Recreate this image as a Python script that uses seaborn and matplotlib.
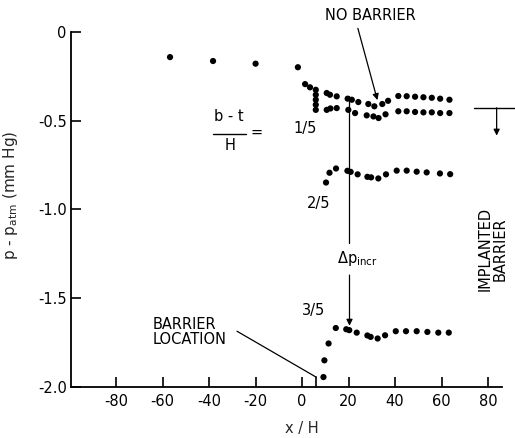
import numpy as np
import pandas as pd
import matplotlib
matplotlib.use("Agg")
import matplotlib.pyplot as plt
import seaborn as sns

# ---------------- data ----------------
upstream_x = [-56.8, -38.3, -20.0, -1.8, 1.3, 3.4, 5.9]
upstream_y = [-0.143, -0.165, -0.180, -0.200, -0.295, -0.313, -0.327]

column_x = [5.9, 5.9, 5.9, 5.9]
column_y = [-0.355, -0.383, -0.411, -0.440]

nobar_x = [10.6, 12.0, 14.9, 19.6, 21.4, 24.2, 28.5, 31.1, 34.5, 37.0,
           41.4, 45.0, 48.6, 52.2, 55.8, 59.4, 63.4]
nobar_y = [-0.345, -0.355, -0.364, -0.377, -0.383, -0.396, -0.407, -0.420,
           -0.407, -0.389, -0.362, -0.363, -0.366, -0.369, -0.372, -0.377, -0.383]

r15_x = [10.6, 12.2, 14.9, 19.9, 22.8, 27.8, 30.7, 32.9, 35.9,
         41.4, 45.0, 48.6, 52.2, 55.8, 59.4, 63.4]
r15_y = [-0.440, -0.432, -0.430, -0.440, -0.458, -0.471, -0.477, -0.486, -0.465,
         -0.448, -0.448, -0.452, -0.454, -0.454, -0.458, -0.458]

r25_x = [10.3, 11.8, 14.6, 19.5, 20.9, 23.9, 28.1, 29.7, 32.8, 36.1,
         40.7, 45.0, 49.3, 53.6, 59.3, 63.7]
r25_y = [-0.849, -0.794, -0.770, -0.783, -0.789, -0.803, -0.817, -0.820, -0.826,
         -0.803, -0.782, -0.782, -0.788, -0.792, -0.798, -0.802]

r35_x = [9.2, 9.6, 11.4, 14.5, 19.0, 20.3, 23.5, 28.1, 29.5, 32.5, 35.7,
         40.3, 44.7, 49.3, 53.9, 58.6, 63.1]
r35_y = [-1.944, -1.850, -1.755, -1.668, -1.675, -1.680, -1.694, -1.710, -1.718,
         -1.727, -1.709, -1.686, -1.686, -1.686, -1.690, -1.694, -1.694]

x_ticks = [-80, -60, -40, -20, 0, 20, 40, 60, 80]
y_ticks = [0.0, -0.5, -1.0, -1.5, -2.0]
y_tick_labels = ["0", "-0.5", "-1.0", "-1.5", "-2.0"]
ratio_labels = ["1/5", "2/5", "3/5"]

frames = []
for name, xs, ys in [("upstream", upstream_x, upstream_y),
                     ("column", column_x, column_y),
                     ("none", nobar_x, nobar_y),
                     ("1/5", r15_x, r15_y),
                     ("2/5", r25_x, r25_y),
                     ("3/5", r35_x, r35_y)]:
    frames.append(pd.DataFrame({"x": xs, "y": ys, "series": name}))
df = pd.concat(frames, ignore_index=True)

# ---------------- figure ----------------
sns.set_style("ticks")
plt.rcParams["font.family"] = ["DejaVu Sans"]
plt.rcParams["axes.unicode_minus"] = False

W, H = 515, 438
fig = plt.figure(figsize=(W / 100, H / 100), dpi=100)
L, R, B, T = 71 / W, 502 / W, 1 - 387 / H, 1 - 31.7 / H
ax = fig.add_axes([L, B, R - L, T - B])

pal = {s: "black" for s in df["series"].unique()}
sns.scatterplot(data=df, x="x", y="y", hue="series", palette=pal, s=20,
                linewidth=0, legend=False, ax=ax, clip_on=False, zorder=3)

ax.set_xlim(-99.4, 86)
ax.set_ylim(-2.0, 0.0)
for sp in ["top", "right"]:
    ax.spines[sp].set_visible(False)
for sp in ["left", "bottom"]:
    ax.spines[sp].set_linewidth(1.3)
    ax.spines[sp].set_color("black")

ax.set_xticks(x_ticks)
ax.set_xticklabels([str(v) for v in x_ticks])
ax.set_yticks(y_ticks)
ax.set_yticklabels(y_tick_labels)
ax.tick_params(axis="both", direction="in", length=7, width=1.2,
               labelsize=10.5, colors="black")
ax.tick_params(axis="x", pad=5)
ax.tick_params(axis="y", pad=3)

ax.set_xlabel("x / H", fontsize=10.5)
ax.xaxis.set_label_coords(0.536, -0.095)
ax.set_ylabel(r"p - p$_{\mathrm{atm}}$ (mm Hg)", fontsize=11)
ax.yaxis.set_label_coords(-0.118, 0.54)

fs = 10.5
kw = dict(fontsize=fs, color="black", clip_on=False)

# NO BARRIER annotation
ax.text(29.2, 0.09, "NO BARRIER", ha="center", va="center", **kw)
ax.annotate("", xy=(32.4, -0.385), xytext=(24.0, 0.019),
            annotation_clip=False,
            arrowprops=dict(arrowstyle="-|>", color="black", lw=0.9,
                            mutation_scale=9, shrinkA=0, shrinkB=0))

# b-t / H =
ax.text(-31.4, -0.478, "b - t", ha="center", va="center", **kw)
ax.plot([-38.3, -24.1], [-0.575, -0.575], color="black", lw=1.0, clip_on=False)
ax.text(-31.0, -0.64, "H", ha="center", va="center", **kw)
ax.text(-19.6, -0.565, "=", ha="center", va="center", **kw)

# ratio labels
ax.text(1.5, -0.545, ratio_labels[0], ha="center", va="center", **kw)
ax.text(7.0, -0.965, ratio_labels[1], ha="center", va="center", **kw)
ax.text(5.0, -1.57, ratio_labels[2], ha="center", va="center", **kw)

# delta p increment
ax.plot([20.4, 20.4], [-0.36, -1.19], color="black", lw=0.9, clip_on=False)
ax.annotate("", xy=(20.4, -1.655), xytext=(20.4, -1.37),
            annotation_clip=False,
            arrowprops=dict(arrowstyle="-|>", color="black", lw=0.9,
                            mutation_scale=9, shrinkA=0, shrinkB=0))
ax.text(23.7, -1.275, r"$\Delta$p$_{\mathrm{incr}}$", ha="center",
        va="center", **kw)

# barrier location
ax.plot([6.0, 6.0], [-2.0, -1.944], color="black", lw=1.2, clip_on=False)
ax.plot([-28.0, 6.0], [-1.686, -1.944], color="black", lw=0.9, clip_on=False)
ax.text(-64.5, -1.692, "BARRIER\nLOCATION", ha="left", va="center",
        linespacing=1.0, **kw)

# implanted barrier symbol
ax.plot([74.0, 92.0], [-0.428, -0.428], color="black", lw=1.0, clip_on=False)
ax.annotate("", xy=(83.7, -0.585), xytext=(83.7, -0.428),
            annotation_clip=False,
            arrowprops=dict(arrowstyle="-|>", color="black", lw=0.9,
                            mutation_scale=9, shrinkA=0, shrinkB=0))
ax.text(82.0, -1.224, "IMPLANTED\nBARRIER", ha="center", va="center",
        rotation=90, linespacing=1.0, **kw)

fig.savefig("out.png", dpi=100)
